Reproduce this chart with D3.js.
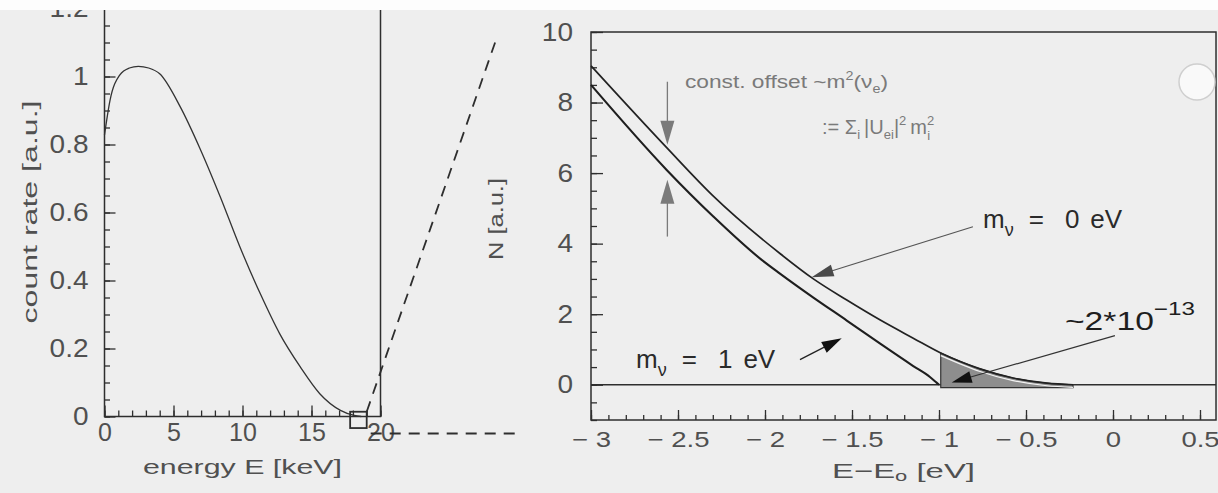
<!DOCTYPE html>
<html>
<head>
<meta charset="utf-8">
<script src="https://cdn.jsdelivr.net/npm/d3@7.9.0/dist/d3.min.js"></script>
<style>
  body { margin: 0; background: #eeeeee; }
  svg { display: block; font-family: "Liberation Sans", Arial, sans-serif; }
</style>
</head>
<body>
<svg id="chart" width="1218" height="493"></svg>
<script>
// left panel: beta spectrum
const spectrumE    = [0, 0.4, 1.1, 1.8, 2.45, 3.2, 4.0, 5.5, 6.9, 8.4, 9.8, 11.3, 12.7, 14.2, 15.6, 17.1, 18.1, 18.6];
const spectrumRate = [0.828, 0.93, 1.004, 1.025, 1.03, 1.025, 1.008, 0.91, 0.79, 0.645, 0.5, 0.36, 0.243, 0.145, 0.067, 0.018, 0.003, 0];
const leftXTicks = [0, 5, 10, 15, 20];
const leftYTicks = [0, 0.2, 0.4, 0.6, 0.8, 1, 1.2];

// right panel: end point region, m = 0 eV and m = 1 eV
const m0X = [-3, -2.565, -2.3, -1.914, -1.722, -1.53, -1.34, -1.148, -0.99, -0.764, -0.574, -0.38, -0.23];
const m0N = [9.04, 6.72, 5.36, 3.72, 3.0, 2.4, 1.84, 1.32, 0.9, 0.45, 0.19, 0.045, 0];
const m1X = [-3, -2.565, -2.297, -2.019, -1.914, -1.722, -1.53, -1.34, -1.148, -1.052, -1.014, -1.0];
const m1N = [8.5, 6.09, 4.77, 3.54, 3.15, 2.47, 1.82, 1.17, 0.53, 0.22, 0.06, 0];
const rightXTicks = [-3, -2.5, -2, -1.5, -1, -0.5, 0, 0.5];
const rightYTicks = [0, 2, 4, 6, 8, 10];

const spectrum = spectrumE.map((E, i) => ({ x: E, y: spectrumRate[i] }));
const curve0 = m0X.map((x, i) => ({ x, y: m0N[i] }));
const curve1 = m1X.map((x, i) => ({ x, y: m1N[i] }));

const svg = d3.select('#chart');
const ink = '#2e2e2e';
const labelInk = '#505050';

// scales
const xL = d3.scaleLinear().domain([0, 20]).range([104.5, 380.5]);
const yL = d3.scaleLinear().domain([0, 1.2]).range([416.5, 8.5]);
const xR = d3.scaleLinear().domain([-3, 0.5]).range([591, 1200]);
const yR = d3.scaleLinear().domain([-1, 10]).range([420, 32]);

svg.append('rect').attr('width', 1218).attr('height', 493).attr('fill', '#eeeeee');

function widen(sel, k) {
  sel.each(function () {
    const w = this.getComputedTextLength();
    d3.select(this).attr('textLength', w * k).attr('lengthAdjust', 'spacingAndGlyphs');
  });
}

function drawAxis(gen, fontSize, k) {
  const g = svg.append('g').call(gen);
  g.select('.domain').remove();
  g.selectAll('line').attr('stroke', ink).attr('stroke-width', 1.3);
  g.selectAll('text')
    .attr('fill', labelInk)
    .style('font-size', fontSize + 'px')
    .style('font-family', '"Liberation Sans", Arial, sans-serif');
  if (k) widen(g.selectAll('text'), k);
  return g;
}

const minus = (d) => (d < 0 ? '\u2212\u00a0' + Math.abs(d) : String(d));

// ---------- left panel ----------
drawAxis(d3.axisLeft(yL).tickValues(d3.range(0, 1.26, 0.05)).tickSize(-5.5).tickFormat(''), 0)
  .attr('transform', `translate(${xL(0)},0)`);
drawAxis(d3.axisLeft(yL).tickValues(leftYTicks).tickSize(-11).tickPadding(16).tickFormat(d3.format('~g')), 25, 1.12)
  .attr('transform', `translate(${xL(0)},0)`);
drawAxis(d3.axisBottom(xL).tickValues(d3.range(0, 21, 1)).tickSize(-6).tickFormat(''), 0)
  .attr('transform', `translate(0,${yL(0)})`);
drawAxis(d3.axisBottom(xL).tickValues(leftXTicks).tickSize(-11).tickPadding(7), 25, 1.0)
  .attr('transform', `translate(0,${yL(0)})`);

svg.append('rect')
  .attr('x', xL(0)).attr('y', yL(1.25))
  .attr('width', xL(20) - xL(0)).attr('height', yL(0) - yL(1.25))
  .attr('fill', 'none').attr('stroke', ink).attr('stroke-width', 1.5);

svg.append('path')
  .datum(spectrum)
  .attr('fill', 'none').attr('stroke', '#333').attr('stroke-width', 1.3)
  .attr('d', d3.line().x(d => xL(d.x)).y(d => yL(d.y)).curve(d3.curveMonotoneX));

// zoom box at the end point and its connector lines
svg.append('rect')
  .attr('x', xL(17.8)).attr('y', yL(0.014))
  .attr('width', xL(19.0) - xL(17.8)).attr('height', yL(-0.034) - yL(0.014))
  .attr('fill', 'none').attr('stroke', ink).attr('stroke-width', 1.8);

const conn = svg.append('g').attr('fill', 'none').attr('stroke', ink)
  .attr('stroke-width', 1.8).attr('stroke-dasharray', '11,8');
conn.append('line').attr('x1', xL(19.0)).attr('y1', yL(0.014)).attr('x2', xR(-3) - 94).attr('y2', 37);
conn.append('line').attr('x1', xL(19.0) + 4).attr('y1', yL(-0.05)).attr('x2', xR(-3) - 71).attr('y2', yL(-0.05));

// axis titles
svg.append('text')
  .attr('transform', `translate(37,212) rotate(-90)`)
  .attr('text-anchor', 'middle').attr('fill', labelInk).style('font-size', '21px')
  .attr('textLength', 223).attr('lengthAdjust', 'spacingAndGlyphs')
  .text('count rate [a.u.]');
svg.append('text')
  .attr('x', 242.5).attr('y', 474)
  .attr('text-anchor', 'middle').attr('fill', labelInk).style('font-size', '21px')
  .attr('textLength', 199).attr('lengthAdjust', 'spacingAndGlyphs')
  .text('energy E [keV]');

// ---------- right panel ----------
drawAxis(d3.axisLeft(yR).tickValues(d3.range(-1, 10.01, 0.5)).tickSize(-6).tickFormat(''), 0)
  .attr('transform', `translate(${xR(-3)},0)`);
drawAxis(d3.axisLeft(yR).tickValues(rightYTicks).tickSize(-12).tickPadding(18).tickFormat(d3.format('~g')), 25, 1.12)
  .attr('transform', `translate(${xR(-3)},0)`);
drawAxis(d3.axisBottom(xR).tickValues(d3.range(-3, 0.59, 0.1)).tickSize(-5).tickFormat(''), 0)
  .attr('transform', `translate(0,${yR(-1)})`);
drawAxis(d3.axisBottom(xR).tickValues(rightXTicks).tickSize(-10).tickPadding(11).tickFormat(minus), 22, 1.25)
  .attr('transform', `translate(0,${yR(-1)})`);

svg.append('rect')
  .attr('x', xR(-3)).attr('y', yR(10))
  .attr('width', xR(0.592) - xR(-3)).attr('height', yR(-1) - yR(10))
  .attr('fill', 'none').attr('stroke', ink).attr('stroke-width', 1.5);

// zero line
svg.append('line')
  .attr('x1', xR(-3)).attr('x2', xR(0.592)).attr('y1', yR(0)).attr('y2', yR(0))
  .attr('stroke', ink).attr('stroke-width', 1.5);

// shaded region above the m = 1 eV end point
const tail = curve0.filter(d => d.x >= -0.99);
svg.append('path')
  .datum(tail)
  .attr('fill', '#8e8e8e').attr('stroke', '#333').attr('stroke-width', 1.2)
  .attr('d', d3.area().x(d => xR(d.x)).y0(yR(-0.08)).y1(d => yR(d.y)).curve(d3.curveMonotoneX));

const lineR = d3.line().x(d => xR(d.x)).y(d => yR(d.y)).curve(d3.curveMonotoneX);
svg.append('path').datum(curve0)
  .attr('fill', 'none').attr('stroke', '#222').attr('stroke-width', 1.7).attr('d', lineR);
svg.append('path').datum(tail)
  .attr('transform', 'translate(0,2.6)')
  .attr('fill', 'none').attr('stroke', '#f4f4f4').attr('stroke-width', 1.2).attr('d', lineR);
svg.append('path').datum(curve1)
  .attr('fill', 'none').attr('stroke', '#1e1e1e').attr('stroke-width', 2.1).attr('d', lineR);

// arrows, in data coordinates of the right panel
function arrow(x1, y1, x2, y2, o) {
  const a = [xR(x1), yR(y1)], b = [xR(x2), yR(y2)];
  const dx = b[0] - a[0], dy = b[1] - a[1], L = Math.hypot(dx, dy);
  const ux = dx / L, uy = dy / L;
  const base = [b[0] - ux * o.len, b[1] - uy * o.len];
  svg.append('line')
    .attr('x1', a[0]).attr('y1', a[1]).attr('x2', base[0] + ux * 2).attr('y2', base[1] + uy * 2)
    .attr('stroke', o.line).attr('stroke-width', o.lw);
  svg.append('path')
    .attr('d', `M${b[0]},${b[1]}L${base[0] - uy * o.w},${base[1] + ux * o.w}L${base[0] + uy * o.w},${base[1] - ux * o.w}Z`)
    .attr('fill', o.head);
}

arrow(-2.561, 8.59, -2.561, 6.8, { len: 24, w: 7, line: '#7a7a7a', head: '#7a7a7a', lw: 1.3 });
arrow(-2.561, 4.2, -2.561, 5.81, { len: 24, w: 7, line: '#7a7a7a', head: '#7a7a7a', lw: 1.3 });
arrow(-0.805, 4.48, -1.732, 3.05, { len: 22, w: 6, line: '#555', head: '#4a4a4a', lw: 1.1 });
arrow(-1.799, 0.71, -1.559, 1.32, { len: 20, w: 6, line: '#222', head: '#111', lw: 1.3 });
arrow(0.011, 1.39, -0.927, 0.065, { len: 20, w: 6, line: '#333', head: '#111', lw: 1.2 });

// annotations
const t1 = svg.append('text')
  .attr('x', xR(-2.46)).attr('y', yR(8.41)).attr('fill', '#7a7a7a').style('font-size', '19px');
t1.append('tspan').text('const. offset ~m');
t1.append('tspan').attr('dy', -8).style('font-size', '12px').text('2');
t1.append('tspan').attr('dy', 8).text('(ν');
t1.append('tspan').attr('dy', 5).style('font-size', '12px').text('e');
t1.append('tspan').attr('dy', -5).text(')');
t1.attr('textLength', 203).attr('lengthAdjust', 'spacingAndGlyphs');

const t2 = svg.append('text')
  .attr('x', xR(-1.672)).attr('y', yR(7.11)).attr('fill', '#7a7a7a').style('font-size', '20px');
t2.append('tspan').text(':= Σ');
t2.append('tspan').attr('dy', 5).style('font-size', '13px').text('i');
t2.append('tspan').attr('dx', 4).attr('dy', -5).text('|U');
t2.append('tspan').attr('dy', 5).style('font-size', '13px').text('ei');
t2.append('tspan').attr('dy', -5).text('|');
t2.append('tspan').attr('dy', -9).style('font-size', '13px').text('2');
t2.append('tspan').attr('dx', 4).attr('dy', 9).text('m');
t2.append('tspan').attr('dy', -9).style('font-size', '13px').text('2');
t2.append('tspan').attr('dx', -7).attr('dy', 15).style('font-size', '13px').text('i');

function massLabel(x, y, value) {
  const t = svg.append('text')
    .attr('x', xR(x)).attr('y', yR(y))
    .attr('fill', '#2a2a2a').style('font-size', '26px');
  t.append('tspan').text('m');
  t.append('tspan').attr('dy', 8).style('font-size', '18px').text('ν');
  t.append('tspan').attr('dx', 15).attr('dy', -8).text('=');
  t.append('tspan').attr('dx', 21).text(value);
  t.append('tspan').attr('dx', 11).text('eV');
}
massLabel(-0.747, 4.45, 0);
massLabel(-2.741, 0.48, 1);

const t3 = svg.append('text')
  .attr('x', xR(-0.276)).attr('y', yR(1.56)).attr('fill', '#1e1e1e').style('font-size', '25px');
t3.append('tspan').text('~2*10');
t3.append('tspan').attr('dy', -15).style('font-size', '18px').text('\u221213');
t3.attr('textLength', 130).attr('lengthAdjust', 'spacingAndGlyphs');

svg.append('text')
  .attr('transform', `translate(503,219) rotate(-90)`)
  .attr('text-anchor', 'middle').attr('fill', labelInk).style('font-size', '20px')
  .attr('textLength', 82).attr('lengthAdjust', 'spacingAndGlyphs')
  .text('N [a.u.]');

const t4 = svg.append('text')
  .attr('x', 832).attr('y', 478).attr('fill', labelInk).style('font-size', '21px');
t4.append('tspan').text('E\u2212E');
t4.append('tspan').attr('dy', 3).style('font-size', '14px').text('o');
t4.append('tspan').attr('dy', -3).text(' [eV]');
t4.attr('textLength', 143).attr('lengthAdjust', 'spacingAndGlyphs');

// paper: punched hole and the white top margin
svg.append('circle').attr('cx', 1197).attr('cy', 82).attr('r', 18)
  .attr('fill', '#f9f9f9').attr('stroke', '#cfcfcf').attr('stroke-width', 1.5);
svg.append('rect').attr('width', 1218).attr('height', 10).attr('fill', '#fdfdfd');
</script>
</body>
</html>
